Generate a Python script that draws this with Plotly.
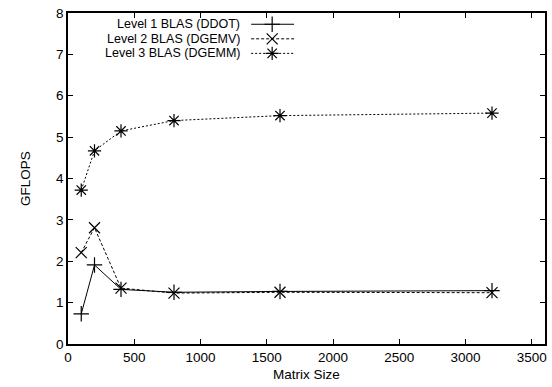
import plotly.graph_objects as go

matrix_size = [100, 200, 400, 800, 1600, 3200]
ddot = [0.73, 1.91, 1.32, 1.25, 1.27, 1.29]
dgemv = [2.21, 2.81, 1.35, 1.23, 1.25, 1.24]
dgemm = [3.72, 4.67, 5.15, 5.40, 5.52, 5.58]

names = ["Level 1 BLAS (DDOT)", "Level 2 BLAS (DGEMV)", "Level 3 BLAS (DGEMM)"]
series = [ddot, dgemv, dgemm]
dashes = ["solid", "3px,2px", "2px,2px"]
symbols = ["cross-thin-open", "x-thin-open", "asterisk-open"]
sizes = [11, 11, 11]

font = "Liberation Sans, Arial, sans-serif"
fig = go.Figure()
for name, ys, d, s, sz in zip(names, series, dashes, symbols, sizes):
    fig.add_trace(go.Scatter(
        x=matrix_size, y=ys, name=name, mode="lines+markers",
        line=dict(color="black", width=1, dash=d),
        marker=dict(symbol=s, size=sz, color="black", line=dict(color="black", width=1.2)),
        showlegend=False))

# custom gnuplot-style legend (text right-aligned, sample on the right)
leg_y = [0.966, 0.922, 0.878]
x_text, x0, x1, xm = 0.365, 0.384, 0.474, 0.428
for name, d, s, sz, yy in zip(names, dashes, symbols, sizes, leg_y):
    fig.add_annotation(x=x_text, y=yy, xref="paper", yref="paper", text=name,
                       showarrow=False, xanchor="right", yanchor="middle",
                       font=dict(family=font, size=12.5, color="black"))
    fig.add_shape(type="line", xref="paper", yref="paper", x0=x0, x1=x1, y0=yy, y1=yy,
                  line=dict(color="black", width=1, dash=d))
    fig.add_trace(go.Scatter(x=[xm], y=[yy], xaxis="x2", yaxis="y2", mode="markers",
                             marker=dict(symbol=s, size=sz, color="black",
                                         line=dict(color="black", width=1.2)),
                             showlegend=False, hoverinfo="skip"))

axis_common = dict(showgrid=False, zeroline=False, showline=True, linecolor="black",
                   linewidth=1.5, mirror="ticks", ticks="inside", ticklen=5,
                   tickcolor="black", tickwidth=1,
                   tickfont=dict(family=font, size=13.5, color="black"))
fig.update_layout(
    width=552, height=387,
    margin=dict(l=68, r=5, t=13, b=43),
    paper_bgcolor="white", plot_bgcolor="white",
    font=dict(family=font, size=13.5, color="black"),
    xaxis=dict(range=[0, 3600], tickvals=[0, 500, 1000, 1500, 2000, 2500, 3000, 3500],
               title=dict(text="Matrix Size", standoff=6, font=dict(family=font, size=13.5)),
               **axis_common),
    yaxis=dict(range=[0, 8], tickvals=list(range(9)),
               title=dict(text="GFLOPS", standoff=22, font=dict(family=font, size=13.5)),
               **axis_common),
    xaxis2=dict(range=[0, 1], overlaying="x", visible=False, fixedrange=True),
    yaxis2=dict(range=[0, 1], overlaying="y", visible=False, fixedrange=True),
)
fig.write_html("out.html")
